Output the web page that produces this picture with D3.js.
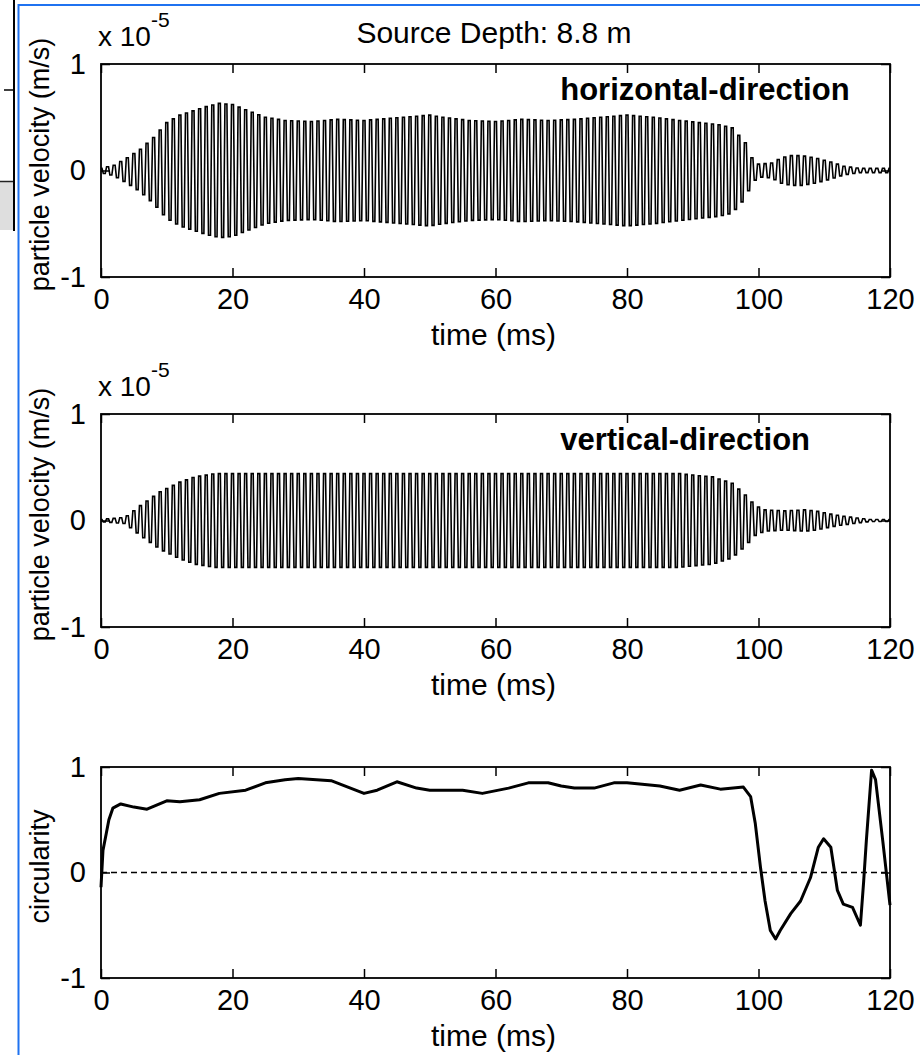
<!DOCTYPE html>
<html>
<head>
<meta charset="utf-8">
<script src="https://cdn.jsdelivr.net/npm/d3@7"></script>
<style>
  body { margin: 0; background: #fff; }
  svg { display: block; font-family: Arial, "Liberation Sans", sans-serif; }
</style>
</head>
<body>
<div id="chart"></div>
<script>
// envelope of the horizontal trace (x 1e-5 m/s)
var hTime = [0, 2, 4, 6, 8, 10, 12, 14, 16, 18, 20, 22, 25, 28, 32, 36, 40, 44, 48, 50, 52, 56, 60, 64, 68, 72, 76, 80, 84, 88, 91, 94, 96, 98, 99, 100, 102, 103.5, 105, 106.5, 108.5, 111, 113, 115.5, 120];
var hAmp  = [0.02, 0.05, 0.12, 0.2, 0.31, 0.45, 0.52, 0.56, 0.6, 0.63, 0.62, 0.57, 0.5, 0.47, 0.46, 0.48, 0.47, 0.49, 0.51, 0.52, 0.5, 0.47, 0.46, 0.48, 0.47, 0.48, 0.5, 0.52, 0.5, 0.47, 0.45, 0.43, 0.4, 0.26, 0.12, 0.06, 0.07, 0.12, 0.14, 0.14, 0.12, 0.08, 0.04, 0.02, 0.02];

// envelope of the vertical trace
var vTime = [0, 2, 3.7, 6, 9, 12, 14.3, 17.4, 20, 30, 40, 50, 60, 70, 80, 88, 91, 93, 96, 98, 99.5, 101, 104, 107, 108.7, 111, 113, 115.5, 117, 120];
var vAmp  = [0.01, 0.02, 0.03, 0.14, 0.27, 0.36, 0.41, 0.44, 0.44, 0.44, 0.44, 0.44, 0.44, 0.44, 0.44, 0.44, 0.42, 0.41, 0.35, 0.24, 0.14, 0.1, 0.09, 0.1, 0.09, 0.06, 0.04, 0.02, 0.01, 0.01];

var halfPeriod = 0.5; // ms between successive peaks

// circularity
var cTime = [0, 0.3, 0.8, 1.2, 1.8, 3, 5, 7, 10, 12, 15, 18, 22, 25, 28, 30, 35, 40, 42, 45, 48, 50, 55, 58, 62, 65, 68, 70, 72, 75, 78, 80, 85, 88, 91.2, 94.2, 97.7, 98.8, 99.5, 100.3, 101, 101.8, 102.6, 103.3, 104.9, 106.4, 107.9, 109.1, 109.9, 111, 112, 112.9, 114.3, 115.5, 116, 116.4, 117.2, 117.8, 118.9, 120];
var cVal  = [-0.14, 0.21, 0.37, 0.5, 0.61, 0.65, 0.62, 0.6, 0.68, 0.67, 0.69, 0.75, 0.78, 0.85, 0.88, 0.89, 0.87, 0.75, 0.78, 0.86, 0.8, 0.78, 0.78, 0.75, 0.8, 0.85, 0.85, 0.82, 0.8, 0.8, 0.85, 0.85, 0.82, 0.78, 0.83, 0.79, 0.81, 0.72, 0.47, 0.05, -0.27, -0.55, -0.63, -0.55, -0.39, -0.27, -0.05, 0.24, 0.32, 0.24, -0.17, -0.3, -0.33, -0.5, -0.08, 0.3, 0.97, 0.88, 0.3, -0.31];

var xTicks = [0, 20, 40, 60, 80, 100, 120];
var yTicks = [-1, 0, 1];

var W = 920, H = 1055;
var left = 101, right = 890;
var svg = d3.select("#chart").append("svg").attr("width", W).attr("height", H);

// window chrome at the left / top edge of the screenshot
svg.append("rect").attr("x", 0).attr("y", 181).attr("width", 14).attr("height", 49).attr("fill", "#dedede");
svg.append("line").attr("x1", 0).attr("x2", 14).attr("y1", 181.5).attr("y2", 181.5).attr("stroke", "#222").attr("stroke-width", 1.5);
svg.append("line").attr("x1", 14).attr("x2", 14).attr("y1", 0).attr("y2", 231).attr("stroke", "#000").attr("stroke-width", 2);
svg.append("line").attr("x1", 4).attr("x2", 14).attr("y1", 90).attr("y2", 90).attr("stroke", "#000").attr("stroke-width", 1.5);
svg.append("line").attr("x1", 18).attr("x2", W).attr("y1", 5).attr("y2", 5).attr("stroke", "#1f72f0").attr("stroke-width", 2);
svg.append("line").attr("x1", 18.5).attr("x2", 18.5).attr("y1", 4).attr("y2", H).attr("stroke", "#1f72f0").attr("stroke-width", 2);

var x = d3.scaleLinear().domain([0, 120]).range([left, right]);
var plain = function(d) { return String(d); };

function panel(top, bottom, ylabel, exponent) {
  var y = d3.scaleLinear().domain([-1, 1]).range([bottom, top]);
  var g = svg.append("g");
  var fs = 29;

  var ax = g.append("g").attr("transform", "translate(0," + bottom + ")")
    .call(d3.axisBottom(x).tickValues(xTicks).tickSizeInner(-9).tickSizeOuter(0).tickPadding(11).tickFormat(plain));
  g.append("g").attr("transform", "translate(0," + top + ")")
    .call(d3.axisTop(x).tickValues(xTicks).tickSizeInner(-9).tickSizeOuter(0).tickFormat(""));
  var ay = g.append("g").attr("transform", "translate(" + left + ",0)")
    .call(d3.axisLeft(y).tickValues(yTicks).tickSizeInner(-9).tickSizeOuter(0).tickPadding(15).tickFormat(plain));
  g.append("g").attr("transform", "translate(" + right + ",0)")
    .call(d3.axisRight(y).tickValues(yTicks).tickSizeInner(-9).tickSizeOuter(0).tickFormat(""));
  g.selectAll(".domain").remove();
  g.selectAll(".tick line").attr("stroke", "#000").attr("stroke-width", 1.5);
  g.selectAll(".tick text").attr("fill", "#000").style("font-size", fs + "px");
  ax.selectAll(".tick text").attr("dy", "0.72em");

  g.append("rect").attr("x", left).attr("y", top).attr("width", right - left).attr("height", bottom - top)
    .attr("fill", "none").attr("stroke", "#000").attr("stroke-width", 1.8);

  g.append("text").attr("x", (left + right) / 2 - 2).attr("y", bottom + 68)
    .attr("text-anchor", "middle").style("font-size", "30px").text("time (ms)");
  g.append("text").attr("transform", "translate(49," + ((top + bottom) / 2 - 6) + ") rotate(-90)")
    .attr("text-anchor", "middle").style("font-size", "27px").text(ylabel);

  if (exponent) {
    var t = g.append("text").attr("x", 98).attr("y", top - 18).style("font-size", "28px");
    t.append("tspan").text("x 10");
    t.append("tspan").attr("dy", -19).style("font-size", "21px").text("-5");
  }
  return { g: g, y: y };
}

function wave(p, times, amps, label, lx) {
  var env = d3.scaleLinear().domain(times).range(amps).clamp(true);
  var pts = [];
  var n = Math.round(120 / halfPeriod);
  for (var k = 0; k <= n; k++) {
    var t = k * halfPeriod, s = k % 2 ? -1 : 1, a = env(t);
    pts.push([Math.max(0, t - halfPeriod * 0.3), s * a]);
    pts.push([Math.min(120, t + halfPeriod * 0.3), s * a]);
  }
  var line = d3.line().x(function(d) { return x(d[0]); }).y(function(d) { return p.y(d[1]); });
  p.g.append("path").attr("d", line(pts)).attr("fill", "none").attr("stroke", "#000").attr("stroke-width", 1.6);
  p.g.append("text").attr("x", x(lx) - 1).attr("y", p.y(0.66)).style("font-size", "31px").style("font-weight", "bold").text(label);
}

svg.append("text").attr("x", 494).attr("y", 43).attr("text-anchor", "middle").style("font-size", "30px").text("Source Depth: 8.8 m");

var p1 = panel(64, 277, "particle velocity (m/s)", true);
wave(p1, hTime, hAmp, "horizontal-direction", 70);

var p2 = panel(414, 627, "particle velocity (m/s)", true);
wave(p2, vTime, vAmp, "vertical-direction", 70);

var p3 = panel(767, 978, "circularity", false);
p3.g.append("line").attr("x1", left).attr("x2", right).attr("y1", p3.y(0)).attr("y2", p3.y(0))
  .attr("stroke", "#000").attr("stroke-width", 1.3).attr("stroke-dasharray", "6,4");
var cl = d3.line().x(function(d, i) { return x(cTime[i]); }).y(function(d) { return p3.y(d); });
p3.g.append("path").attr("d", cl(cVal)).attr("fill", "none").attr("stroke", "#000").attr("stroke-width", 3).attr("stroke-linejoin", "round");
</script>
</body>
</html>
